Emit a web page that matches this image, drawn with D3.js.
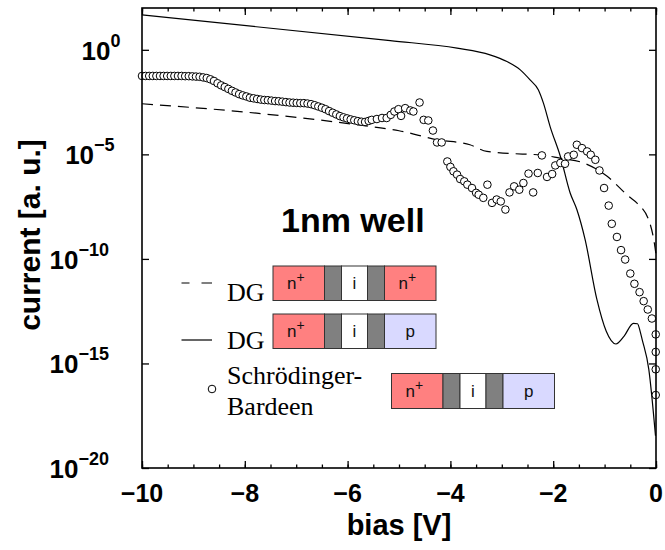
<!DOCTYPE html>
<html>
<head>
<meta charset="utf-8">
<script src="https://cdn.jsdelivr.net/npm/d3@7"></script>
<style>
  body { margin: 0; background: #fff; }
</style>
</head>
<body>
<div id="plot"></div>
<script>
// DG, n+ i n+ (dashed): bias [V] and log10(current)
const dgNinBias = [-10, -7.77, -5.5, -5.0, -4.26, -3.62, -3.29, -2.45, -2.25, -1.87, -1.41, -0.95, -0.53, -0.37, -0.12, -0.02, 0];
const dgNinLog  = [-2.58, -3.03, -3.69, -3.87, -4.30, -4.54, -4.86, -5.00, -5.02, -5.18, -5.41, -6.05, -7.01, -7.33, -8.29, -9.44, -9.8];

// DG, n+ i p (solid)
const dgNipBias = [-10, -5.17, -3.87, -3.23, -2.90, -2.64, -2.45, -2.29, -2.19, -2.06, -1.86, -1.67, -1.54, -1.38, -1.15, -0.97, -0.78, -0.62, -0.44, -0.36, -0.31, -0.27, -0.14, -0.01];
const dgNipLog  = [1.67, 0.44, 0.08, -0.24, -0.56, -0.96, -1.44, -1.91, -2.55, -3.67, -5.10, -6.85, -7.64, -9.07, -11.94, -13.45, -14.07, -13.69, -13.08, -13.10, -13.45, -13.85, -15.28, -18.46];

// Schroedinger-Bardeen (circles)
const sbBias = [
  -10.00, -9.93, -9.86, -9.79, -9.72, -9.65, -9.58, -9.51, -9.44, -9.37,
  -9.30, -9.23, -9.16, -9.09, -9.02, -8.95, -8.88, -8.81, -8.74, -8.67,
  -8.60, -8.53, -8.46, -8.39, -8.32, -8.25, -8.18, -8.11, -8.04, -7.97,
  -7.90, -7.83, -7.76, -7.69, -7.62, -7.55, -7.48, -7.41, -7.34, -7.27,
  -7.20, -7.13, -7.06, -6.99, -6.92, -6.85, -6.78, -6.71, -6.64, -6.57,
  -6.50, -6.43, -6.36, -6.29, -6.22, -6.15, -6.08, -6.01, -5.94, -5.87,
  -5.80, -5.73, -5.66, -5.59, -5.53, -5.43, -5.33, -5.24, -5.16, -5.09,
  -5.01, -4.96, -4.88, -4.78, -4.72, -4.60, -4.52, -4.43, -4.34, -4.26,
  -4.17, -4.06, -4.00, -3.94, -3.87, -3.81, -3.73, -3.67, -3.58, -3.50,
  -3.45, -3.36, -3.28, -3.19, -3.10, -3.02, -2.93, -2.85, -2.76, -2.66,
  -2.58, -2.48, -2.39, -2.30, -2.22, -2.12, -2.02, -1.96, -1.86, -1.77,
  -1.71, -1.60, -1.54, -1.44, -1.34, -1.27, -1.18, -1.10, -1.01, -0.92,
  -0.86, -0.76, -0.68, -0.60, -0.50, -0.42, -0.32, -0.24, -0.16, -0.08,
  -0.005, -0.005, -0.005, -0.005
];
const sbLog = [
  -1.25, -1.25, -1.25, -1.25, -1.25, -1.25, -1.25, -1.25, -1.25, -1.25,
  -1.25, -1.25, -1.26, -1.26, -1.27, -1.28, -1.29, -1.32, -1.35, -1.41,
  -1.49, -1.60, -1.70, -1.78, -1.87, -1.96, -2.04, -2.12, -2.18, -2.23,
  -2.29, -2.32, -2.35, -2.38, -2.40, -2.41, -2.43, -2.45, -2.46, -2.48,
  -2.50, -2.52, -2.53, -2.54, -2.55, -2.55, -2.57, -2.60, -2.65, -2.71,
  -2.77, -2.84, -2.93, -3.01, -3.09, -3.17, -3.23, -3.28, -3.33, -3.37,
  -3.41, -3.44, -3.45, -3.40, -3.35, -3.31, -3.26, -3.26, -3.11, -2.95,
  -2.84, -3.16, -2.79, -2.90, -2.95, -2.52, -3.35, -3.38, -3.86, -4.43,
  -4.43, -5.34, -5.60, -5.81, -5.97, -6.18, -6.29, -6.45, -6.61, -6.84,
  -6.93, -7.08, -6.45, -7.32, -7.16, -7.25, -7.64, -6.82, -6.53, -6.69,
  -6.37, -5.92, -6.82, -5.89, -5.05, -6.08, -5.94, -5.53, -5.41, -5.45,
  -5.10, -5.02, -4.54, -4.70, -4.86, -5.02, -5.26, -5.77, -6.61, -7.45,
  -8.32, -8.95, -9.58, -10.03, -10.70, -11.19, -11.59, -12.02, -12.42, -12.85,
  -13.61, -14.45, -15.28, -16.51
];

const xTicks = [-10, -8, -6, -4, -2, 0];
const xMinorTicks = d3.range(-10, 0.01, 0.5);
const yTicks = [0, -5, -10, -15, -20];

const width = 665, height = 550;
const margin = { top: 8, right: 9, bottom: 82, left: 142 };
const iw = width - margin.left - margin.right;
const ih = height - margin.top - margin.bottom;

const svg = d3.select("#plot").append("svg")
  .attr("width", width)
  .attr("height", height);

const g = svg.append("g").attr("transform", `translate(${margin.left},${margin.top})`);

const x = d3.scaleLinear().domain([-10, 0]).range([0, iw]);
const y = d3.scaleLog().domain([1e-20, 1e2]).range([ih, 0]);

const sans = "'Liberation Sans', Arial, Helvetica, sans-serif";
const serif = "'Liberation Serif', 'Times New Roman', serif";
const fmt = d3.format("d");

// ticks (inward, on all four sides)
function tickAxis(axis, transform) {
  const a = g.append("g").attr("transform", transform).call(axis);
  a.select(".domain").remove();
  a.selectAll("text").remove();
  a.selectAll("line").attr("stroke", "#000").attr("stroke-width", 1.3);
  return a;
}
tickAxis(d3.axisBottom(x).tickValues(xMinorTicks).tickSize(-3.5), `translate(0,${ih})`);
tickAxis(d3.axisBottom(x).tickValues(xTicks).tickSize(-7), `translate(0,${ih})`);
tickAxis(d3.axisTop(x).tickValues(xMinorTicks).tickSize(-3.5), "translate(0,0)");
tickAxis(d3.axisTop(x).tickValues(xTicks).tickSize(-7), "translate(0,0)");
tickAxis(d3.axisLeft(y).tickValues(yTicks.map(e => Math.pow(10, e))).tickSize(-7), "translate(0,0)");
tickAxis(d3.axisRight(y).tickValues(yTicks.map(e => Math.pow(10, e))).tickSize(-7), `translate(${iw},0)`);

// x tick labels
g.selectAll(".xlab")
  .data(xTicks)
  .enter().append("text")
  .attr("x", d => x(d))
  .attr("y", ih + 34)
  .attr("text-anchor", "middle")
  .attr("font-family", sans)
  .attr("font-weight", "bold")
  .attr("font-size", 25)
  .text(d => fmt(d));

// y tick labels 10^n (aligned as if the exponent were full size)
function textWidth(str, size) {
  const t = svg.append("text")
    .attr("font-family", sans).attr("font-weight", "bold")
    .attr("font-size", size).text(str);
  const w = t.node().getComputedTextLength();
  t.remove();
  return w;
}
const ylab = svg.selectAll(".ylab")
  .data(yTicks)
  .enter().append("text")
  .attr("x", d => 126 - textWidth("10", 26) - textWidth(fmt(d), 28))
  .attr("y", d => margin.top + y(Math.pow(10, d)) + 10)
  .attr("font-family", sans)
  .attr("font-weight", "bold")
  .attr("font-size", 26);
ylab.append("tspan").text("10");
ylab.append("tspan")
  .attr("dy", -13)
  .attr("font-size", 18)
  .text(d => fmt(d));

// axis titles
svg.append("text")
  .attr("x", margin.left + iw / 2)
  .attr("y", 535)
  .attr("text-anchor", "middle")
  .attr("font-family", sans)
  .attr("font-weight", "bold")
  .attr("font-size", 29)
  .text("bias [V]");

svg.append("text")
  .attr("transform", "translate(40,235) rotate(-90)")
  .attr("text-anchor", "middle")
  .attr("font-family", sans)
  .attr("font-weight", "bold")
  .attr("font-size", 30)
  .text("current [a. u.]");

// curves
const line = d3.line()
  .x(d => x(d[0]))
  .y(d => y(Math.pow(10, d[1])))
  .curve(d3.curveMonotoneX);

g.append("path")
  .datum(d3.zip(dgNinBias, dgNinLog))
  .attr("d", line)
  .attr("fill", "none")
  .attr("stroke", "#000")
  .attr("stroke-width", 1.2)
  .attr("stroke-dasharray", "11,7");

g.append("path")
  .datum(d3.zip(dgNipBias, dgNipLog))
  .attr("d", line)
  .attr("fill", "none")
  .attr("stroke", "#000")
  .attr("stroke-width", 1.2);

g.selectAll("circle.sb")
  .data(d3.zip(sbBias, sbLog))
  .enter().append("circle")
  .attr("class", "sb")
  .attr("cx", d => x(d[0]))
  .attr("cy", d => y(Math.pow(10, d[1])))
  .attr("r", 3.8)
  .attr("fill", "#fff")
  .attr("stroke", "#000")
  .attr("stroke-width", 1);

// frame
g.append("rect")
  .attr("width", iw)
  .attr("height", ih)
  .attr("fill", "none")
  .attr("stroke", "#000")
  .attr("stroke-width", 1.6);

// annotation
svg.append("text")
  .attr("x", 281)
  .attr("y", 232)
  .attr("font-family", sans)
  .attr("font-weight", "bold")
  .attr("font-size", 34)
  .text("1nm well");

// legend
const nColor = "#ff8080", gapColor = "#808080", iColor = "#ffffff", pColor = "#d9d9ff";
const segWidths = [51.5, 17, 26, 17, 51.5];

function deviceBox(x0, y0, h, lastLabel, lastFill) {
  const segs = [
    { label: "n", sup: "+", fill: nColor },
    { label: "", fill: gapColor },
    { label: "i", fill: iColor },
    { label: "", fill: gapColor },
    { label: lastLabel, sup: lastLabel === "n" ? "+" : "", fill: lastFill }
  ];
  let cx = x0;
  segs.forEach((s, i) => {
    const w = segWidths[i];
    svg.append("rect")
      .attr("x", cx).attr("y", y0)
      .attr("width", w).attr("height", h)
      .attr("fill", s.fill)
      .attr("stroke", "#333")
      .attr("stroke-width", 1);
    if (s.label) {
      const t = svg.append("text")
        .attr("x", cx + w / 2 + (s.sup ? -3 : 0))
        .attr("y", y0 + h / 2 + 6)
        .attr("text-anchor", "middle")
        .attr("font-family", sans)
        .attr("font-size", 17)
        .attr("fill", "#111");
      t.append("tspan").text(s.label);
      if (s.sup) t.append("tspan").attr("dy", -7).attr("font-size", 14).text(s.sup);
    }
    cx += w;
  });
}

deviceBox(273, 266, 34.5, "n", nColor);
deviceBox(273, 314, 34.5, "p", pColor);
deviceBox(391.5, 373.5, 35, "p", pColor);

svg.append("line")
  .attr("x1", 181.5).attr("x2", 212).attr("y1", 283).attr("y2", 283)
  .attr("stroke", "#000").attr("stroke-width", 1.2)
  .attr("stroke-dasharray", "8,12,11");
svg.append("line")
  .attr("x1", 181.5).attr("x2", 212).attr("y1", 340).attr("y2", 340)
  .attr("stroke", "#000").attr("stroke-width", 1.2);
svg.append("circle")
  .attr("cx", 212).attr("cy", 389).attr("r", 3.8)
  .attr("fill", "#fff").attr("stroke", "#000").attr("stroke-width", 1);

[["DG", 300.5], ["DG", 348.5], ["Schrödinger-", 384], ["Bardeen", 415]].forEach(([txt, yy]) => {
  svg.append("text")
    .attr("x", 227)
    .attr("y", yy)
    .attr("font-family", serif)
    .attr("font-size", 26)
    .text(txt);
});
</script>
</body>
</html>
